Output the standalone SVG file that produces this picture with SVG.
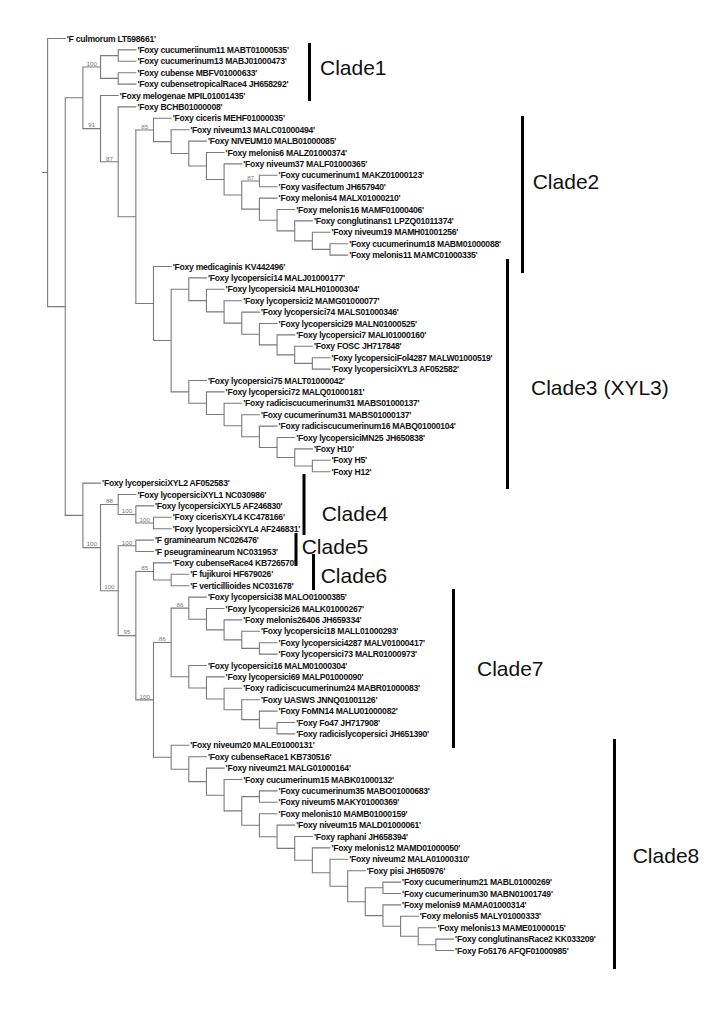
<svg xmlns="http://www.w3.org/2000/svg" width="720" height="1014" viewBox="0 0 720 1014">
<style>
.br{fill:none;stroke:#7a7a7a;stroke-width:1.1;stroke-linecap:square}
.lf text{font-family:"Liberation Sans",Arial,sans-serif;font-weight:bold;font-size:8.6px;letter-spacing:-0.25px;fill:#111}
.bs text{font-family:"Liberation Sans",Arial,sans-serif;font-size:6.2px;fill:#777;text-anchor:middle}
.cl rect{fill:#000}
.cl text{font-family:"Liberation Sans",Arial,sans-serif;font-size:21px;fill:#111}
</style>
<rect width="720" height="1014" fill="#fff"/>
<g id="connectors">
<path class="br" d="M42.7,172.5H47.6 M47.6,38.5V306.6 M47.6,38.5H65.25 M47.6,306.6H65.25 M65.25,97.8V515.35 M65.25,97.8H82.9 M82.9,67V128.65 M82.9,67H100.55 M100.55,55.6V78.4 M100.55,55.6H118.2 M118.2,49.9V61.3 M118.2,49.9H135.85 M118.2,61.3H135.85 M100.55,78.4H118.2 M118.2,72.7V84.1 M118.2,72.7H135.85 M118.2,84.1H135.85 M82.9,128.65H100.55 M100.55,95.5V161.8 M100.55,95.5H118.2 M100.55,161.8H118.2 M118.2,106.9V216.75 M118.2,106.9H135.85 M118.2,216.75H135.85 M135.85,129.96V303.53"/>
<path class="br" d="M135.85,129.96H153.5 M153.5,118.3V141.62 M153.5,118.3H171.15 M153.5,141.62H171.15 M171.15,129.7V153.55 M171.15,129.7H188.8 M171.15,153.55H188.8 M188.8,141.1V165.99 M188.8,141.1H206.45 M188.8,165.99H206.45 M206.45,152.5V179.49 M206.45,152.5H224.1 M206.45,179.49H224.1 M224.1,163.9V195.07 M224.1,163.9H241.75 M224.1,195.07H241.75 M241.75,181V209.14 M241.75,181H259.4 M259.4,175.3V186.7 M259.4,175.3H277.05 M259.4,186.7H277.05 M241.75,209.14H259.4 M259.4,198.1V220.19 M259.4,198.1H277.05 M259.4,220.19H277.05 M277.05,209.5V230.88 M277.05,209.5H294.7 M277.05,230.88H294.7 M294.7,220.9V240.85 M294.7,220.9H312.35 M294.7,240.85H312.35 M312.35,232.3V249.4 M312.35,232.3H330 M312.35,249.4H330 M330,243.7V255.1 M330,243.7H347.65 M330,255.1H347.65"/>
<path class="br" d="M135.85,303.53H153.5 M153.5,266.5V340.56 M153.5,266.5H171.15 M153.5,340.56H171.15 M171.15,289.26V391.86 M171.15,289.26H188.8 M188.8,277.9V300.61 M188.8,277.9H206.45 M188.8,300.61H206.45 M206.45,289.3V311.92 M206.45,289.3H224.1 M206.45,311.92H224.1 M224.1,300.7V323.14 M224.1,300.7H241.75 M224.1,323.14H241.75 M241.75,312.1V334.19 M241.75,312.1H259.4 M241.75,334.19H259.4 M259.4,323.5V344.88 M259.4,323.5H277.05 M259.4,344.88H277.05 M277.05,334.9V354.85 M277.05,334.9H294.7 M277.05,354.85H294.7 M294.7,346.3V363.4 M294.7,346.3H312.35 M294.7,363.4H312.35 M312.35,357.7V369.1 M312.35,357.7H330 M312.35,369.1H330 M171.15,391.86H188.8 M188.8,380.5V403.21 M188.8,380.5H206.45 M188.8,403.21H206.45 M206.45,391.9V414.52 M206.45,391.9H224.1 M206.45,414.52H224.1 M224.1,403.3V425.74 M224.1,403.3H241.75 M224.1,425.74H241.75 M241.75,414.7V436.79 M241.75,414.7H259.4 M241.75,436.79H259.4 M259.4,426.1V447.48 M259.4,426.1H277.05 M259.4,447.48H277.05 M277.05,437.5V457.45 M277.05,437.5H294.7 M277.05,457.45H294.7 M294.7,448.9V466 M294.7,448.9H312.35 M294.7,466H312.35 M312.35,460.3V471.7 M312.35,460.3H330 M312.35,471.7H330"/>
<path class="br" d="M65.25,515.35H82.9 M82.9,483.1V547.6 M82.9,483.1H100.55 M82.9,547.6H100.55 M100.55,504.48V590.72 M100.55,504.48H118.2 M118.2,494.5V514.45 M118.2,494.5H135.85 M118.2,514.45H135.85 M135.85,505.9V523 M135.85,505.9H153.5 M135.85,523H153.5 M153.5,517.3V528.7 M153.5,517.3H171.15 M153.5,528.7H171.15 M100.55,590.72H118.2 M118.2,545.8V635.64 M118.2,545.8H135.85 M135.85,540.1V551.5 M135.85,540.1H153.5 M135.85,551.5H153.5 M118.2,635.64H135.85 M135.85,571.45V699.84 M135.85,571.45H153.5 M153.5,562.9V580 M153.5,562.9H171.15 M153.5,580H171.15 M171.15,574.3V585.7 M171.15,574.3H188.8 M171.15,585.7H188.8 M135.85,699.84H153.5 M153.5,642.43V757.24"/>
<path class="br" d="M153.5,642.43H171.15 M171.15,608.14V676.72 M171.15,608.14H188.8 M188.8,597.1V619.19 M188.8,597.1H206.45 M188.8,619.19H206.45 M206.45,608.5V629.88 M206.45,608.5H224.1 M206.45,629.88H224.1 M224.1,619.9V639.85 M224.1,619.9H241.75 M224.1,639.85H241.75 M241.75,631.3V648.4 M241.75,631.3H259.4 M241.75,648.4H259.4 M259.4,642.7V654.1 M259.4,642.7H277.05 M259.4,654.1H277.05 M171.15,676.72H188.8 M188.8,665.5V687.94 M188.8,665.5H206.45 M188.8,687.94H206.45 M206.45,676.9V698.99 M206.45,676.9H224.1 M206.45,698.99H224.1 M224.1,688.3V709.68 M224.1,688.3H241.75 M224.1,709.68H241.75 M241.75,699.7V719.65 M241.75,699.7H259.4 M241.75,719.65H259.4 M259.4,711.1V728.2 M259.4,711.1H277.05 M259.4,728.2H277.05 M277.05,722.5V733.9 M277.05,722.5H294.7 M277.05,733.9H294.7"/>
<path class="br" d="M153.5,757.24H171.15 M171.15,745.3V769.18 M171.15,745.3H188.8 M171.15,769.18H188.8 M188.8,756.7V781.65 M188.8,756.7H206.45 M188.8,781.65H206.45 M206.45,768.1V795.21 M206.45,768.1H224.1 M206.45,795.21H224.1 M224.1,779.5V810.92 M224.1,779.5H241.75 M224.1,810.92H241.75 M241.75,796.6V825.23 M241.75,796.6H259.4 M259.4,790.9V802.3 M259.4,790.9H277.05 M259.4,802.3H277.05 M241.75,825.23H259.4 M259.4,813.7V836.76 M259.4,813.7H277.05 M259.4,836.76H277.05 M277.05,825.1V848.41 M277.05,825.1H294.7 M277.05,848.41H294.7 M294.7,836.5V860.32 M294.7,836.5H312.35 M294.7,860.32H312.35 M312.35,847.9V872.75 M312.35,847.9H330 M312.35,872.75H330 M330,859.3V886.2 M330,859.3H347.65 M330,886.2H347.65 M347.65,870.7V901.69 M347.65,870.7H365.3 M347.65,901.69H365.3 M365.3,887.8V915.59 M365.3,887.8H382.95 M382.95,882.1V893.5 M382.95,882.1H400.6 M382.95,893.5H400.6 M365.3,915.59H382.95 M382.95,904.9V926.28 M382.95,904.9H400.6 M382.95,926.28H400.6 M400.6,916.3V936.25 M400.6,916.3H418.25 M400.6,936.25H418.25 M418.25,927.7V944.8 M418.25,927.7H435.9 M418.25,944.8H435.9 M435.9,939.1V950.5 M435.9,939.1H453.55 M435.9,950.5H453.55"/>
</g>
<g class="bs" id="bootstrap">
<text x="91.7" y="65.7">100</text>
<text x="91.7" y="127.3">91</text>
<text x="109.4" y="160.5">87</text>
<text x="144.7" y="128.7">85</text>
<text x="250.6" y="179.7">87</text>
<text x="91.7" y="546.3">100</text>
<text x="109.4" y="503.2">88</text>
<text x="127" y="513.1">100</text>
<text x="144.7" y="521.7">100</text>
<text x="109.4" y="589.4">100</text>
<text x="127" y="544.5">100</text>
<text x="127" y="634.3">95</text>
<text x="144.7" y="570.1">85</text>
<text x="144.7" y="698.5">100</text>
<text x="162.3" y="641.1">86</text>
<text x="180" y="606.8">86</text>
</g>
<g class="lf" id="leaves">
<g id="leaf01"><text x="66.8" y="41.6">'F culmorum LT598661'</text></g>
<g id="leaf02"><text x="137.4" y="53">'Foxy cucumeriinum11 MABT01000535'</text></g>
<g id="leaf03"><text x="137.4" y="64.4">'Foxy cucumerinum13 MABJ01000473'</text></g>
<g id="leaf04"><text x="137.4" y="75.8">'Foxy cubense MBFV01000633'</text></g>
<g id="leaf05"><text x="137.4" y="87.2">'Foxy cubensetropicalRace4 JH658292'</text></g>
<g id="leaf06"><text x="119.7" y="98.6">'Foxy melogenae MPIL01001435'</text></g>
<g id="leaf07"><text x="137.4" y="110">'Foxy BCHB01000008'</text></g>
<g id="leaf08"><text x="172.7" y="121.4">'Foxy ciceris MEHF01000035'</text></g>
<g id="leaf09"><text x="190.3" y="132.8">'Foxy niveum13 MALC01000494'</text></g>
<g id="leaf10"><text x="208" y="144.2">'Foxy NIVEUM10 MALB01000085'</text></g>
<g id="leaf11"><text x="225.6" y="155.6">'Foxy melonis6 MALZ01000374'</text></g>
<g id="leaf12"><text x="243.3" y="167">'Foxy niveum37 MALF01000365'</text></g>
<g id="leaf13"><text x="278.6" y="178.4">'Foxy cucumerinum1 MAKZ01000123'</text></g>
<g id="leaf14"><text x="278.6" y="189.8">'Foxy vasifectum JH657940'</text></g>
<g id="leaf15"><text x="278.6" y="201.2">'Foxy melonis4 MALX01000210'</text></g>
<g id="leaf16"><text x="296.2" y="212.6">'Foxy melonis16 MAMF01000406'</text></g>
<g id="leaf17"><text x="313.9" y="224">'Foxy conglutinans1 LPZQ01011374'</text></g>
<g id="leaf18"><text x="331.5" y="235.4">'Foxy niveum19 MAMH01001256'</text></g>
<g id="leaf19"><text x="349.2" y="246.8">'Foxy cucumerinum18 MABM01000088'</text></g>
<g id="leaf20"><text x="349.2" y="258.2">'Foxy melonis11 MAMC01000335'</text></g>
<g id="leaf21"><text x="172.7" y="269.6">'Foxy medicaginis KV442496'</text></g>
<g id="leaf22"><text x="208" y="281">'Foxy lycopersici14 MALJ01000177'</text></g>
<g id="leaf23"><text x="225.6" y="292.4">'Foxy lycopersici4 MALH01000304'</text></g>
<g id="leaf24"><text x="243.3" y="303.8">'Foxy lycopersici2 MAMG01000077'</text></g>
<g id="leaf25"><text x="260.9" y="315.2">'Foxy lycopersici74 MALS01000346'</text></g>
<g id="leaf26"><text x="278.6" y="326.6">'Foxy lycopersici29 MALN01000525'</text></g>
<g id="leaf27"><text x="296.2" y="338">'Foxy lycopersici7 MALI01000160'</text></g>
<g id="leaf28"><text x="313.9" y="349.4">'Foxy FOSC JH717848'</text></g>
<g id="leaf29"><text x="331.5" y="360.8">'Foxy lycopersiciFol4287 MALW01000519'</text></g>
<g id="leaf30"><text x="331.5" y="372.2">'Foxy lycopersiciXYL3 AF052582'</text></g>
<g id="leaf31"><text x="208" y="383.6">'Foxy lycopersici75 MALT01000042'</text></g>
<g id="leaf32"><text x="225.6" y="395">'Foxy lycopersici72 MALQ01000181'</text></g>
<g id="leaf33"><text x="243.3" y="406.4">'Foxy radiciscucumerinum31 MABS01000137'</text></g>
<g id="leaf34"><text x="260.9" y="417.8">'Foxy cucumerinum31 MABS01000137'</text></g>
<g id="leaf35"><text x="278.6" y="429.2">'Foxy radiciscucumerinum16 MABQ01000104'</text></g>
<g id="leaf36"><text x="296.2" y="440.6">'Foxy lycopersiciMN25 JH650838'</text></g>
<g id="leaf37"><text x="313.9" y="452">'Foxy H10'</text></g>
<g id="leaf38"><text x="331.5" y="463.4">'Foxy H5'</text></g>
<g id="leaf39"><text x="331.5" y="474.8">'Foxy H12'</text></g>
<g id="leaf40"><text x="102.1" y="486.2">'Foxy lycopersiciXYL2 AF052583'</text></g>
<g id="leaf41"><text x="137.4" y="497.6">'Foxy lycopersiciXYL1 NC030986'</text></g>
<g id="leaf42"><text x="155" y="509">'Foxy lycopersiciXYL5 AF246830'</text></g>
<g id="leaf43"><text x="172.7" y="520.4">'Foxy cicerisXYL4 KC478166'</text></g>
<g id="leaf44"><text x="172.7" y="531.8">'Foxy lycopersiciXYL4 AF246831'</text></g>
<g id="leaf45"><text x="155" y="543.2">'F graminearum NC026476'</text></g>
<g id="leaf46"><text x="155" y="554.6">'F pseugraminearum NC031953'</text></g>
<g id="leaf47"><text x="172.7" y="566">'Foxy cubenseRace4 KB726570'</text></g>
<g id="leaf48"><text x="190.3" y="577.4">'F fujikuroi HF679026'</text></g>
<g id="leaf49"><text x="190.3" y="588.8">'F verticillioides NC031678'</text></g>
<g id="leaf50"><text x="208" y="600.2">'Foxy lycopersici38 MALO01000385'</text></g>
<g id="leaf51"><text x="225.6" y="611.6">'Foxy lycopersici26 MALK01000267'</text></g>
<g id="leaf52"><text x="243.3" y="623">'Foxy melonis26406 JH659334'</text></g>
<g id="leaf53"><text x="260.9" y="634.4">'Foxy lycopersici18 MALL01000293'</text></g>
<g id="leaf54"><text x="278.6" y="645.8">'Foxy lycopersici4287 MALV01000417'</text></g>
<g id="leaf55"><text x="278.6" y="657.2">'Foxy lycopersici73 MALR01000973'</text></g>
<g id="leaf56"><text x="208" y="668.6">'Foxy lycopersici16 MALM01000304'</text></g>
<g id="leaf57"><text x="225.6" y="680">'Foxy lycopersici69 MALP01000090'</text></g>
<g id="leaf58"><text x="243.3" y="691.4">'Foxy radiciscucumerinum24 MABR01000083'</text></g>
<g id="leaf59"><text x="260.9" y="702.8">'Foxy UASWS JNNQ01001126'</text></g>
<g id="leaf60"><text x="278.6" y="714.2">'Foxy FoMN14 MALU01000082'</text></g>
<g id="leaf61"><text x="296.2" y="725.6">'Foxy Fo47 JH717908'</text></g>
<g id="leaf62"><text x="296.2" y="737">'Foxy radicislycopersici JH651390'</text></g>
<g id="leaf63"><text x="190.3" y="748.4">'Foxy niveum20 MALE01000131'</text></g>
<g id="leaf64"><text x="208" y="759.8">'Foxy cubenseRace1 KB730516'</text></g>
<g id="leaf65"><text x="225.6" y="771.2">'Foxy niveum21 MALG01000164'</text></g>
<g id="leaf66"><text x="243.3" y="782.6">'Foxy cucumerinum15 MABK01000132'</text></g>
<g id="leaf67"><text x="278.6" y="794">'Foxy cucumerinum35 MABO01000683'</text></g>
<g id="leaf68"><text x="278.6" y="805.4">'Foxy niveum5 MAKY01000369'</text></g>
<g id="leaf69"><text x="278.6" y="816.8">'Foxy melonis10 MAMB01000159'</text></g>
<g id="leaf70"><text x="296.2" y="828.2">'Foxy niveum15 MALD01000061'</text></g>
<g id="leaf71"><text x="313.9" y="839.6">'Foxy raphani JH658394'</text></g>
<g id="leaf72"><text x="331.5" y="851">'Foxy melonis12 MAMD01000050'</text></g>
<g id="leaf73"><text x="349.2" y="862.4">'Foxy niveum2 MALA01000310'</text></g>
<g id="leaf74"><text x="366.8" y="873.8">'Foxy pisi JH650976'</text></g>
<g id="leaf75"><text x="402.1" y="885.2">'Foxy cucumerinum21 MABL01000269'</text></g>
<g id="leaf76"><text x="402.1" y="896.6">'Foxy cucumerinum30 MABN01001749'</text></g>
<g id="leaf77"><text x="402.1" y="908">'Foxy melonis9 MAMA01000314'</text></g>
<g id="leaf78"><text x="419.8" y="919.4">'Foxy melonis5 MALY01000333'</text></g>
<g id="leaf79"><text x="437.4" y="930.8">'Foxy melonis13 MAME01000015'</text></g>
<g id="leaf80"><text x="455.1" y="942.2">'Foxy conglutinansRace2 KK033209'</text></g>
<g id="leaf81"><text x="455.1" y="953.6">'Foxy Fo5176 AFQF01000985'</text></g>
</g>
<g class="cl" id="clades">
<g id="clade1"><rect x="308" y="43" width="3" height="58"/><text x="320" y="75.2">Clade1</text></g>
<g id="clade2"><rect x="521" y="116" width="3" height="157"/><text x="532.7" y="189.3">Clade2</text></g>
<g id="clade3"><rect x="506" y="259" width="3" height="230"/><text x="531" y="395">Clade3 (XYL3)</text></g>
<g id="clade4"><rect x="302.5" y="474" width="3" height="61"/><text x="321.7" y="520.8">Clade4</text></g>
<g id="clade5"><rect x="294.5" y="533" width="3" height="33"/><text x="301.7" y="554.2">Clade5</text></g>
<g id="clade6"><rect x="312" y="554" width="3" height="36"/><text x="320.7" y="582.5">Clade6</text></g>
<g id="clade7"><rect x="452" y="589" width="3" height="159"/><text x="477" y="675.5">Clade7</text></g>
<g id="clade8"><rect x="613" y="739" width="3" height="230"/><text x="632.7" y="862.5">Clade8</text></g>
</g>
</svg>
